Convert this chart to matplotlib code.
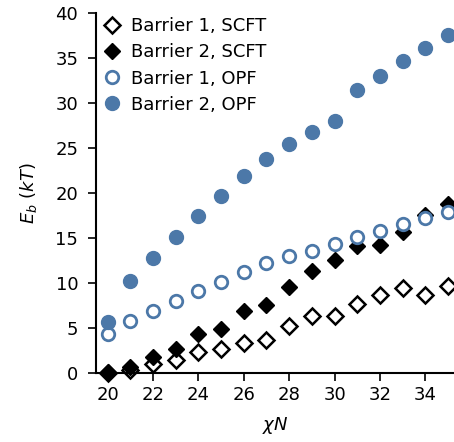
import numpy as np
import matplotlib
matplotlib.use("Agg")
import matplotlib.pyplot as plt

chiN = np.arange(20, 36)

b1_scft = [0.05, 0.3, 0.96, 1.5, 2.3, 2.7, 3.3, 3.7, 5.2, 6.3, 6.3, 7.7, 8.7, 9.4, 8.7, 9.7]
b2_scft = [0.1, 0.7, 1.8, 2.7, 4.3, 4.9, 6.9, 7.6, 9.5, 11.3, 12.6, 14.1, 14.2, 15.7, 17.6, 18.8]
b1_opf = [4.3, 5.8, 6.9, 8.0, 9.1, 10.15, 11.2, 12.25, 13.05, 13.6, 14.3, 15.1, 15.8, 16.6, 17.2, 17.9]
b2_opf = [5.7, 10.2, 12.8, 15.1, 17.4, 19.7, 21.9, 23.8, 25.4, 26.8, 28.0, 31.4, 33.0, 34.6, 36.1, 37.5]

blue = '#4c78a8'

plt.rcParams['font.size'] = 13
fig = plt.figure(figsize=(4.54, 4.42), dpi=100)
ax = fig.add_axes([0.212, 0.156, 0.79, 0.815])

ax.plot(chiN, b1_scft, 'D', ms=8, mfc='white', mec='black', mew=1.8, clip_on=False, label='Barrier 1, SCFT')
ax.plot(chiN, b2_scft, 'D', ms=8.5, mfc='black', mec='black', clip_on=False, label='Barrier 2, SCFT')
ax.plot(chiN, b1_opf, 'o', ms=9, mfc='white', mec=blue, mew=2, clip_on=False, label='Barrier 1, OPF')
ax.plot(chiN, b2_opf, 'o', ms=10, mfc=blue, mec=blue, clip_on=False, label='Barrier 2, OPF')

ax.set_xlim(19.5, 35.3)
ax.set_ylim(0, 40)
ax.set_xticks(np.arange(20, 35, 2))
ax.set_yticks(np.arange(0, 41, 5))
ax.spines['top'].set_visible(False)
ax.spines['right'].set_visible(False)
ax.spines['left'].set_linewidth(1.5)
ax.spines['bottom'].set_linewidth(1.5)
ax.tick_params(width=1.2, length=6)
ax.tick_params(axis='y', pad=7)

ax.set_xlabel(r'$\chi N$', labelpad=8)
ax.set_ylabel(r'$E_b$ ($kT$)', labelpad=12)

ax.legend(loc='upper left', frameon=False, handletextpad=0.5, borderaxespad=0.1,
          labelspacing=0.45, borderpad=0.15, handlelength=1.2)

fig.savefig('out.png', dpi=100)
